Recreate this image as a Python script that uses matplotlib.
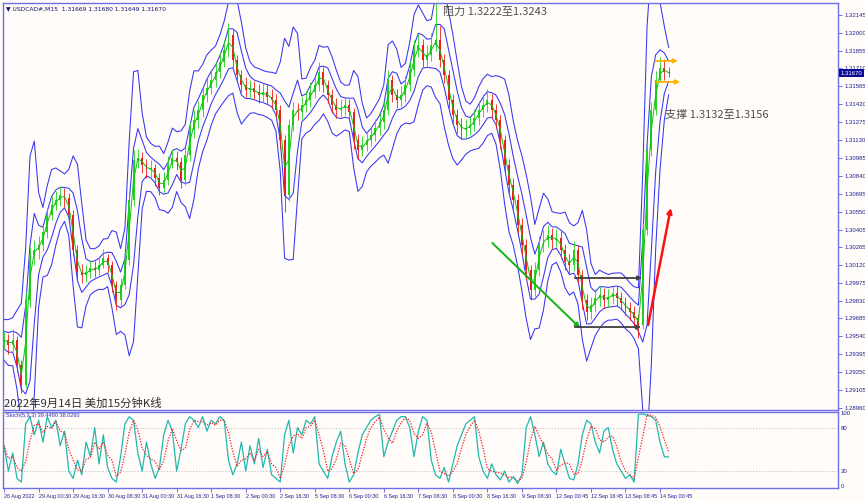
import numpy as np
import pandas as pd
import matplotlib
matplotlib.use('Agg')
import matplotlib.pyplot as plt
from matplotlib import transforms

plt.rcParams['font.family'] = ['Liberation Sans', 'DejaVu Sans']

# ---------------- data ----------------
symbol_header = "USDCAD#,M15  1.31669 1.31680 1.31649 1.31670"
bars_per_sample = 8  # each sample below = 2 hours of M15 bars

closes = [
    1.29511, 1.29471, 1.29511, 1.29309, 1.29147, 1.29835, 1.30200, 1.30240, 1.30281, 1.30386,
    1.30524, 1.30605, 1.30645, 1.30686, 1.30661, 1.30524, 1.30240, 1.30062, 1.30038, 1.30062,
    1.30094, 1.30078, 1.30119, 1.30175, 1.30119, 1.29957, 1.29835, 1.29957, 1.30159, 1.30645,
    1.30969, 1.30985, 1.30929, 1.30888, 1.30904, 1.30823, 1.30742, 1.30807, 1.30929, 1.30985,
    1.30953, 1.30807, 1.31010, 1.31212, 1.31293, 1.31374, 1.31496, 1.31552, 1.31617, 1.31682,
    1.31763, 1.31860, 1.31982, 1.31779, 1.31658, 1.31577, 1.31536, 1.31552, 1.31520, 1.31496,
    1.31520, 1.31479, 1.31455, 1.31374, 1.31131, 1.30686, 1.31253, 1.31374, 1.31358, 1.31415,
    1.31455, 1.31520, 1.31577, 1.31682, 1.31577, 1.31496, 1.31415, 1.31374, 1.31390, 1.31415,
    1.31358, 1.31131, 1.31050, 1.31091, 1.31131, 1.31172, 1.31228, 1.31277, 1.31374, 1.31617,
    1.31496, 1.31455, 1.31496, 1.31577, 1.31698, 1.31860, 1.31901, 1.31779, 1.31820, 1.31901,
    1.31941, 1.31779, 1.31658, 1.31455, 1.31334, 1.31253, 1.31212, 1.31228, 1.31253, 1.31309,
    1.31374, 1.31415, 1.31455, 1.31374, 1.31293, 1.31131, 1.30929, 1.30767, 1.30645, 1.30443,
    1.30281, 1.30078, 1.29916, 1.30078, 1.30281, 1.30321, 1.30362, 1.30321, 1.30337, 1.30240,
    1.30143, 1.30119, 1.30240, 1.30038, 1.29835, 1.29738, 1.29795, 1.29851, 1.29876, 1.29835,
    1.29859, 1.29892, 1.29851, 1.29811, 1.29770, 1.29738, 1.29689, 1.29633, 1.30402, 1.31050,
    1.31374, 1.31617, 1.31714, 1.31682, 1.31670,
]

highs = [
    1.29580, 1.29560, 1.29600, 1.29540, 1.29350, 1.29900, 1.30260, 1.30320, 1.30350, 1.30440,
    1.30580, 1.30680, 1.30720, 1.30760, 1.30740, 1.30700, 1.30560, 1.30280, 1.30130, 1.30120,
    1.30160, 1.30150, 1.30190, 1.30250, 1.30210, 1.30150, 1.29990, 1.30010, 1.30220, 1.30720,
    1.31050, 1.31060, 1.31030, 1.30980, 1.30970, 1.30940, 1.30860, 1.30870, 1.31000, 1.31060,
    1.31040, 1.30990, 1.31070, 1.31280, 1.31370, 1.31450, 1.31560, 1.31630, 1.31690, 1.31760,
    1.31840, 1.31940, 1.32079, 1.32020, 1.31820, 1.31700, 1.31640, 1.31620, 1.31610, 1.31580,
    1.31590, 1.31580, 1.31540, 1.31500, 1.31410, 1.31170, 1.31300, 1.31440, 1.31430, 1.31480,
    1.31530, 1.31600, 1.31650, 1.31760, 1.31720, 1.31620, 1.31540, 1.31470, 1.31460, 1.31480,
    1.31460, 1.31390, 1.31180, 1.31160, 1.31200, 1.31240, 1.31300, 1.31350, 1.31450, 1.31700,
    1.31660, 1.31540, 1.31570, 1.31650, 1.31770, 1.31940, 1.31990, 1.31950, 1.31900, 1.32000,
    1.32241, 1.32050, 1.31830, 1.31700, 1.31500, 1.31380, 1.31310, 1.31300, 1.31320, 1.31380,
    1.31450, 1.31500, 1.31540, 1.31500, 1.31420, 1.31330, 1.31170, 1.30980, 1.30820, 1.30690,
    1.30500, 1.30330, 1.30120, 1.30140, 1.30350, 1.30400, 1.30440, 1.30420, 1.30410, 1.30390,
    1.30290, 1.30210, 1.30310, 1.30280, 1.30080, 1.29880, 1.29860, 1.29920, 1.29950, 1.29930,
    1.29920, 1.29960, 1.29950, 1.29900, 1.29860, 1.29820, 1.29790, 1.29720, 1.30460, 1.31110,
    1.31440, 1.31690, 1.31800, 1.31790, 1.31720,
]

lows = [
    1.29440, 1.29400, 1.29420, 1.29250, 1.29082, 1.29120, 1.29780, 1.30120, 1.30170, 1.30230,
    1.30340, 1.30480, 1.30560, 1.30600, 1.30590, 1.30470, 1.30190, 1.29990, 1.29970, 1.29980,
    1.30010, 1.30020, 1.30040, 1.30090, 1.30060, 1.29900, 1.29754, 1.29790, 1.29920, 1.30120,
    1.30600, 1.30900, 1.30860, 1.30820, 1.30830, 1.30760, 1.30686, 1.30700, 1.30770, 1.30900,
    1.30890, 1.30740, 1.30770, 1.30960, 1.31150, 1.31230, 1.31320, 1.31440, 1.31500, 1.31560,
    1.31630, 1.31720, 1.31800, 1.31720, 1.31600, 1.31520, 1.31480, 1.31470, 1.31460, 1.31430,
    1.31440, 1.31420, 1.31390, 1.31310, 1.31060, 1.30548, 1.30640, 1.31200, 1.31290, 1.31300,
    1.31360, 1.31400, 1.31470, 1.31530, 1.31520, 1.31430, 1.31350, 1.31310, 1.31320, 1.31330,
    1.31290, 1.31060, 1.30980, 1.31000, 1.31040, 1.31080, 1.31120, 1.31170, 1.31220, 1.31330,
    1.31440, 1.31390, 1.31400, 1.31440, 1.31530, 1.31650, 1.31800, 1.31720, 1.31730, 1.31770,
    1.31850, 1.31720, 1.31590, 1.31390, 1.31270, 1.31190, 1.31140, 1.31150, 1.31170, 1.31200,
    1.31250, 1.31320, 1.31360, 1.31310, 1.31230, 1.31060, 1.30860, 1.30700, 1.30570, 1.30380,
    1.30200, 1.30000, 1.29835, 1.29870, 1.30030, 1.30220, 1.30260, 1.30250, 1.30260, 1.30170,
    1.30080, 1.30050, 1.30070, 1.29970, 1.29760, 1.29670, 1.29680, 1.29740, 1.29790, 1.29770,
    1.29780, 1.29800, 1.29790, 1.29750, 1.29710, 1.29670, 1.29620, 1.29527, 1.29600, 1.30360,
    1.31000, 1.31330, 1.31600, 1.31620, 1.31640,
]

stoch_k = [
    55, 20, 45, 10, 5, 85, 95, 70, 90, 60,
    95, 80, 90, 55, 75, 20, 10, 35, 15, 60,
    40, 80, 30, 70, 25, 10, 5, 40, 85, 95,
    90, 45, 20, 60, 30, 10, 25, 70, 90, 75,
    20, 50, 85, 95, 90, 80, 95, 75, 90, 85,
    95, 90, 35, 15, 30, 60, 20, 55, 30, 65,
    25, 50, 15, 10, 5, 70, 90, 45, 80, 70,
    90, 85, 95, 30, 20, 10, 40, 60, 75, 30,
    5, 15, 45, 70, 80, 90, 95, 98, 40, 60,
    75, 90, 95, 95, 80, 40, 75, 95, 90, 35,
    15, 10, 25, 5, 30, 55, 70, 85, 90, 95,
    40, 20, 10, 30, 15, 8, 20, 5, 12, 3,
    15, 80, 95, 70, 40, 60, 30, 20, 15, 50,
    30, 10, 8, 30, 70, 90, 85, 60, 45, 75,
    80, 50, 30, 20, 10, 15, 5, 98, 99, 97,
    95, 90, 60, 40, 39.448,
]
stoch_label = "Stoch(5,3,3) 39.4480 38.0260"
stoch_levels = [20, 80]
stoch_ticks = [0, 20, 80, 100]

price_ticks = [1.28960, 1.29105, 1.29250, 1.29395, 1.29540, 1.29685, 1.29830, 1.29975,
               1.30120, 1.30265, 1.30405, 1.30550, 1.30695, 1.30840, 1.30985, 1.31130,
               1.31275, 1.31420, 1.31565, 1.31710, 1.31855, 1.32000, 1.32145]

time_labels = ["26 Aug 2022", "29 Aug 00:30", "29 Aug 16:30", "30 Aug 08:30", "31 Aug 00:30",
               "31 Aug 16:30", "1 Sep 08:30", "2 Sep 00:30", "2 Sep 16:30", "5 Sep 08:30",
               "6 Sep 00:30", "6 Sep 16:30", "7 Sep 08:30", "8 Sep 00:30", "8 Sep 16:30",
               "9 Sep 08:30", "12 Sep 00:45", "12 Sep 16:45", "13 Sep 08:45", "14 Sep 00:45"]
bars_per_time_label = 64

# annotation arrows: (bar_start, price_start, bar_end, price_end)
green_arrow = (905, 1.30297, 1068, 1.29608)
gray_arrows = [(1058, 1.30013, 1183, 1.30013), (1058, 1.29616, 1181, 1.29616)]
red_arrow = (1194, 1.29632, 1236, 1.30580)
orange_arrows = [(1207, 1.31771, 1249, 1.31771), (1207, 1.31601, 1253, 1.31601)]

resist_text = "阻力 1.3222至1.3243"
support_text = "支撑 1.3132至1.3156"
title_text = "2022年9月14日 美加15分钟K线"

# ---------------- figure ----------------
W, H = 865, 501
BG = '#FFFCFA'
FRAME = '#6F6FE6'
TXT = '#20208F'
fig = plt.figure(figsize=(W / 100, H / 100), dpi=100, facecolor=BG)
ax = fig.add_axes([3 / W, 1 - 410 / H, 835 / W, 407 / H], facecolor=BG)
ax2 = fig.add_axes([3 / W, 1 - 488 / H, 835 / W, 76 / H], facecolor=BG)

xlim = (-2, 1546)
for a in (ax, ax2):
    a.set_xlim(*xlim)
    for s in a.spines.values():
        s.set_color(FRAME)
        s.set_linewidth(1.0)

xs = np.arange(len(closes)) * bars_per_sample
cl = pd.Series(closes)
hlc = np.column_stack([highs, lows, closes])

# bollinger-like bands from the last 3 samples' high/low/close
mid = cl.rolling(3, min_periods=1).mean().to_numpy()
sd = np.array([np.std(hlc[max(0, i - 2):i + 1].ravel()) for i in range(len(closes))])
for k in (2.9, 1.25):
    ax.plot(xs, mid + k * sd, color='#3535F2', lw=0.75, zorder=2)
    ax.plot(xs, mid - k * sd, color='#3535F2', lw=0.75, zorder=2)

# candles
opens = [closes[0]] + closes[:-1]
for x, o, c, h, l in zip(xs, opens, closes, highs, lows):
    col = '#1FD21F' if c >= o else '#EE1C1C'
    ax.vlines(x, l, h, color=col, lw=0.6, zorder=3)
    hh = max(abs(c - o), 0.00004)
    ax.bar(x, hh, bottom=min(o, c), width=3.6, color=col, linewidth=0, zorder=3)

ma = cl.rolling(2, min_periods=1).mean()
ax.plot(xs, ma, color='#10C010', lw=0.7, zorder=4)

ax.set_ylim(1.28944, 1.32240)
ax.set_xticks([])
ax.yaxis.tick_right()
ax.set_yticks(price_ticks)
ax.set_yticklabels([f"{p:.5f}" for p in price_ticks])
ax.tick_params(axis='y', direction='out', length=3, width=0.7, color=FRAME,
               labelsize=4.3, labelcolor=TXT, pad=1.5)

# current price box
blend = transforms.blended_transform_factory(ax.transAxes, ax.transData)
ax.text(1.003, closes[-1], f"{closes[-1]:.5f}", transform=blend, fontsize=4.3,
        color='white', va='center', ha='left', zorder=10,
        bbox=dict(boxstyle='square,pad=0.25', fc='#0A0A96', ec='none'))

# header
ax.text(0.003, 0.993, "▼ " + symbol_header, transform=ax.transAxes, fontsize=4.3,
        color='#10106A', va='top', ha='left', family=['DejaVu Sans'])

cjk = ['Noto Sans CJK SC', 'DejaVu Sans']
ax.text(0.527, 0.991, resist_text, transform=ax.transAxes, fontsize=8,
        color='#505050', va='top', ha='left', family=cjk)
ax.text(0.793, 0.725, support_text, transform=ax.transAxes, fontsize=8,
        color='#505050', va='center', ha='left', family=cjk)
ax.text(0.0015, 0.004, title_text, transform=ax.transAxes, fontsize=8.2,
        color='#303030', va='bottom', ha='left', family=cjk)

def arrow(a, seg, color, lw, ms):
    a.annotate('', xy=(seg[2], seg[3]), xytext=(seg[0], seg[1]),
               arrowprops=dict(arrowstyle='-|>', color=color, lw=lw,
                               mutation_scale=ms, shrinkA=0, shrinkB=0), zorder=8)

arrow(ax, green_arrow, '#14B414', 1.4, 7)
for g in gray_arrows:
    arrow(ax, g, '#404040', 1.3, 6)
arrow(ax, red_arrow, '#FF1010', 1.8, 7)
for o in orange_arrows:
    arrow(ax, o, '#FFB000', 1.3, 6)

# ---------------- stochastic ----------------
sk = pd.Series(stoch_k)
sig = sk.rolling(3, min_periods=1).mean()
xs2 = np.arange(len(stoch_k)) * bars_per_sample
ax2.set_ylim(-3.2, 101.4)
for lv in stoch_levels:
    ax2.axhline(lv, color='#BBBBBB', lw=0.6, ls=(0, (1.5, 2)), zorder=1)
ax2.plot(xs2, sk, color='#22B8AE', lw=0.9, zorder=3)
ax2.plot(xs2, sig, color='#F02020', lw=0.9, ls=(0, (1, 1.2)), zorder=4)
ax2.text(0.003, 0.985, stoch_label, transform=ax2.transAxes, fontsize=4.0,
         color='#3030B0', va='top', ha='left')
ax2.yaxis.tick_right()
ax2.set_yticks(stoch_ticks)
ax2.set_yticklabels([str(t) for t in stoch_ticks])
ax2.tick_params(axis='y', length=0, labelsize=4.3, labelcolor=TXT, pad=2)

tpos = np.arange(len(time_labels)) * bars_per_time_label
ax2.set_xticks(tpos)
ax2.set_xticklabels(time_labels)
ax2.tick_params(axis='x', direction='out', length=3, width=0.7, color=FRAME,
                labelsize=3.9, labelcolor=TXT, pad=1)
for lab in ax2.get_xticklabels():
    lab.set_horizontalalignment('left')

fig.savefig('out.png', dpi=100, facecolor=BG)
